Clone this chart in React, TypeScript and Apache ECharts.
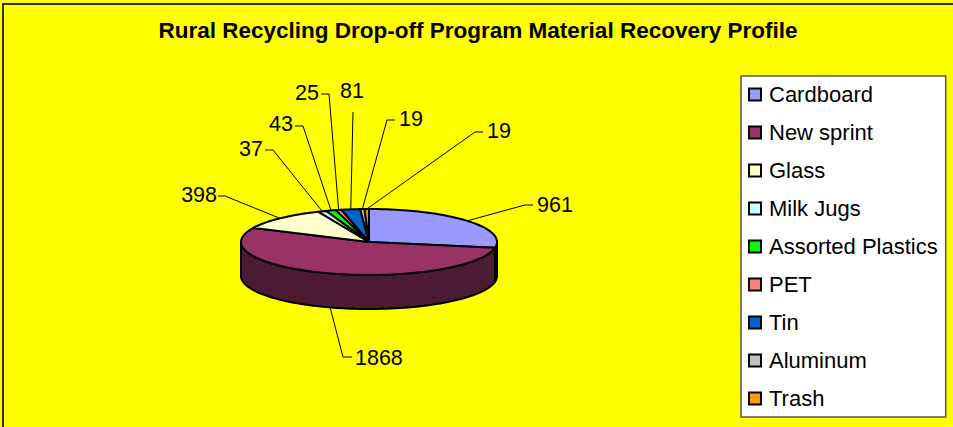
import React, { useEffect, useRef } from "react";
import * as echarts from "echarts";

const titleText = "Rural Recycling Drop-off Program Material Recovery Profile";
const categories = ["Cardboard", "New sprint", "Glass", "Milk Jugs", "Assorted Plastics", "PET", "Tin", "Aluminum", "Trash"];
const values = [961, 1868, 398, 37, 43, 25, 81, 19, 19];
const topColors = ["#9999FF", "#993366", "#FFFFCC", "#CCFFFF", "#00FF00", "#FF8080", "#0066CC", "#C0C0C0", "#FF9900"];
const wallColors = ["#4D4D80", "#4D1A33", "#808066", "#668080", "#008000", "#804040", "#003366", "#606060", "#804D00"];

// leader line elbows and label anchors (layout only)
const leaderElbows = [[525, 205, 533], [343, 357, 352], [225, 196, 218], [273, 150, 265], [303, 126, 295], [329, 94, 321], [353, 112, 353], [387, 120, 395], [475, 132, 483]];
const labelAnchors = [[537, 205, "left"], [355, 358, "left"], [217, 195, "right"], [263, 149, "right"], [293, 124, "right"], [319, 93, "right"], [352, 91, "center"], [399, 119, "left"], [487, 131, "left"]];

const CX = 369, CY = 242, RX = 128, RY = 33, DEPTH = 34;
const total = values.reduce((a, b) => a + b, 0);
const deg = Math.PI / 180;
const pt = (t: number, dy = 0) => [CX + Math.sin(t * deg) * RX, CY - Math.cos(t * deg) * RY + dy];

function arcPoints(a: number, b: number, dy = 0) {
  const pts: number[][] = [];
  const n = Math.max(1, Math.ceil((b - a) / 2));
  for (let i = 0; i <= n; i++) pts.push(pt(a + ((b - a) * i) / n, dy));
  return pts;
}

function sliceRange(i: number) {
  const before = values.slice(0, i).reduce((a, b) => a + b, 0);
  return [(before / total) * 360, ((before + values[i]) / total) * 360];
}

function makeRender(i: number) {
  return () => {
    const [a, b] = sliceRange(i);
    const mid = (a + b) / 2;
    const children: any[] = [];
    const wa = Math.max(a, 90);
    const wb = Math.min(b, 270);
    if (wb > wa) {
      const topEdge = arcPoints(wa, wb);
      const bottomEdge = arcPoints(wa, wb, DEPTH).reverse();
      children.push({
        type: "polygon",
        shape: { points: [...topEdge, ...bottomEdge] },
        style: { fill: wallColors[i], stroke: "#000", lineWidth: 2, lineJoin: "round" },
      });
    }
    children.push({
      type: "polygon",
      shape: { points: [[CX, CY], ...arcPoints(a, b)] },
      style: { fill: topColors[i], stroke: "#000", lineWidth: 2, lineJoin: "round" },
    });
    const start = mid > 90 && mid < 270 ? pt(mid, DEPTH) : pt(mid);
    const [ex, ey, tx] = leaderElbows[i];
    children.push({
      type: "polyline",
      shape: { points: [start, [ex, ey], [tx, ey]] },
      style: { fill: "none", stroke: "#000", lineWidth: 1 },
      z2: 5,
    });
    const [lx, ly, align] = labelAnchors[i] as [number, number, string];
    children.push({
      type: "text",
      x: lx,
      y: ly,
      style: {
        text: String(values[i]),
        fill: "#000",
        font: '21.5px "Liberation Sans"',
        align,
        verticalAlign: "middle",
      },
      z2: 6,
    });
    return { type: "group", children };
  };
}

export default function App() {
  const ref = useRef<HTMLDivElement>(null);
  useEffect(() => {
    document.body.style.margin = "0";
    const chart = echarts.init(ref.current!, null, { renderer: "svg" });
    chart.setOption({
      animation: false,
      backgroundColor: "#FFFF00",
      textStyle: { fontFamily: "Liberation Sans" },
      title: {
        text: titleText,
        left: 478,
        top: 19,
        textAlign: "center",
        padding: 0,
        textStyle: { fontSize: 22.5, fontWeight: "bold", color: "#000", fontFamily: "Liberation Sans" },
      },
      legend: {
        orient: "vertical",
        left: 741,
        top: 76,
        padding: [7, 8, 7, 7],
        backgroundColor: "#FFFFFF",
        borderColor: "#555555",
        borderWidth: 1.5,
        borderRadius: 0,
        itemWidth: 12,
        itemHeight: 12,
        itemGap: 15,
        icon: "rect",
        data: categories,
        selectedMode: false,
        itemStyle: { borderColor: "#000", borderWidth: 2 },
        textStyle: { fontSize: 22, color: "#000", fontFamily: "Liberation Sans", padding: [0, 0, 0, 3], lineHeight: 23 },
      },
      graphic: [
        { type: "line", shape: { x1: 3, y1: 4, x2: 3, y2: 427 }, style: { stroke: "#333333", lineWidth: 2 } },
        { type: "line", shape: { x1: 2, y1: 4, x2: 953, y2: 4 }, style: { stroke: "#333333", lineWidth: 2 } },
      ],
      series: categories.map((name, i) => ({
        type: "custom",
        name,
        coordinateSystem: "none",
        data: [values[i]],
        silent: true,
        itemStyle: { color: topColors[i] },
        renderItem: makeRender(i),
      })),
    });
    return () => chart.dispose();
  }, []);
  return <div ref={ref} style={{ position: "absolute", left: 0, top: 0, width: 953, height: 427 }} />;
}
